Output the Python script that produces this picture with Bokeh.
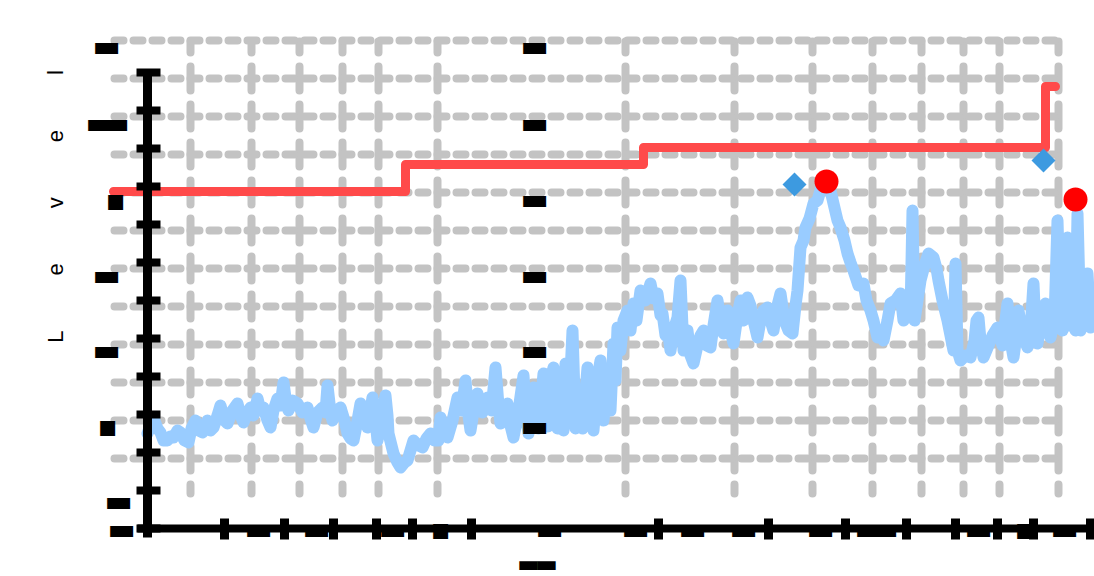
from math import pi
from bokeh.plotting import figure
from bokeh.models import (ColumnDataSource, Range1d, LinearAxis, FixedTicker, Grid,
                          LabelSet, Label)
from bokeh.embed import file_html
from bokeh.resources import INLINE
from bokeh.core.properties import value

# ---- data ----
t = [0, 3, 6, 10, 13, 16, 20, 23, 26, 30, 33, 37, 41, 44, 48, 51, 55, 58, 60, 63, 66, 70, 73,
     77, 80, 85, 90, 93, 96, 100, 103, 106, 110, 113, 116, 120, 123, 126, 130, 133, 136, 139,
     141, 145, 150, 155, 160, 163, 166, 170, 175, 178, 180, 183, 185, 189, 193, 197, 200, 203,
     206, 210, 213, 217, 220, 223, 225, 228, 230, 234, 238, 240, 241, 244, 246, 250, 253, 257,
     260, 263, 266, 271, 275, 279, 283, 287, 291, 293, 297, 300, 305, 310, 314, 318, 321, 323,
     327, 330, 335, 340, 344, 348, 351, 353, 357, 360, 363, 366, 371, 376, 379, 381, 383, 386,
     391, 396, 400, 403, 406, 410, 413, 416, 418, 421, 425, 428, 430, 435, 440, 443, 446, 450,
     453, 456, 460, 463, 466, 468, 470, 473, 476, 480, 483, 486, 489, 493, 498, 503, 506, 510,
     513, 515, 518, 520, 523, 526, 530, 533, 536, 540, 543, 546, 550, 553, 556, 559, 563, 566,
     570, 573, 576, 580, 583, 586, 590, 593, 596, 600, 603, 606, 610, 613, 616, 620, 623, 626,
     630, 633, 637, 641, 645, 648, 650, 653, 656, 658, 662, 666, 670, 675, 680, 683, 686, 690,
     693, 697, 700, 703, 706, 711, 716, 719, 723, 726, 730, 733, 736, 740, 743, 748, 753, 756,
     760, 763, 765, 767, 770, 773, 777, 781, 786, 789, 791, 795, 800, 803, 806, 808, 810, 813,
     818, 823, 827, 829, 831, 833, 836, 841, 845, 850, 855, 860, 863, 866, 869, 871, 875, 880,
     883, 886, 888, 890, 894, 898, 901, 903, 907, 910, 913, 915, 918, 920, 923, 925, 928, 930,
     933, 937, 940, 943, 947]
level = [95, 103, 110, 100, 96, 88, 88, 92, 91, 98, 96, 88, 86, 100, 108, 98, 96, 103, 108, 98,
         101, 113, 123, 108, 105, 118, 125, 113, 106, 116, 121, 113, 130, 118, 121, 108, 101,
         118, 130, 123, 146, 123, 118, 128, 125, 116, 121, 110, 101, 116, 121, 116, 143, 116,
         108, 118, 121, 108, 95, 90, 88, 108, 125, 110, 101, 118, 131, 108, 88, 110, 133, 113,
         95, 83, 75, 66, 61, 66, 68, 78, 88, 83, 81, 90, 95, 88, 88, 111, 98, 91, 108, 131, 118,
         148, 113, 98, 123, 135, 116, 131, 118, 161, 123, 105, 118, 125, 103, 91, 118, 153, 108,
         95, 118, 141, 100, 155, 102, 148, 161, 100, 140, 98, 165, 110, 198, 100, 140, 100, 161,
         118, 98, 150, 168, 108, 150, 118, 185, 148, 201, 178, 208, 218, 198, 225, 208, 238, 228,
         245, 230, 235, 213, 215, 193, 201, 178, 198, 211, 248, 178, 198, 173, 165, 183, 193, 198,
         183, 181, 203, 228, 208, 195, 218, 198, 185, 213, 228, 208, 231, 223, 208, 191, 208, 218,
         221, 208, 198, 223, 235, 208, 198, 195, 223, 238, 281, 288, 301, 310, 325, 328, 345, 345,
         338, 325, 308, 301, 288, 275, 266, 258, 243, 245, 228, 218, 208, 191, 196, 188, 208, 225,
         228, 235, 208, 228, 213, 318, 208, 228, 248, 263, 275, 271, 260, 248, 228, 208, 193, 178,
         265, 178, 168, 173, 171, 188, 208, 211, 188, 171, 183, 193, 201, 183, 225, 188, 171, 193,
         218, 193, 181, 198, 245, 198, 185, 208, 225, 203, 191, 208, 308, 203, 198, 208, 291, 203,
         208, 198, 315, 198, 213, 255, 201, 218]

limit_t = [-34, 258, 496, 898, 908]
limit_level = [337, 364, 381, 442, 442]

flag_t = [647, 896]
flag_level = [344, 368]

peak_t = [679, 928]
peak_level = [347, 329]

y_ticks = [38 * k for k in range(13)]
x_ticks = [77, 137, 186, 229, 265, 324, 511, 621, 698, 759, 808, 850, 886, 943]
x_grid = [43, 104, 152, 195, 231, 290, 478, 587, 665, 725, 774, 816, 852, 911]
y_grid = [38 * k + 32 for k in range(1, 13)]

# ---- figure ----
p = figure(width=1094, height=576, output_backend="svg", toolbar_location=None,
           x_range=Range1d(-147, 947), y_range=Range1d(-48, 528),
           x_axis_type=None, y_axis_type=None,
           min_border_left=0, min_border_right=0, min_border_top=0, min_border_bottom=0)
p.outline_line_color = None
p.background_fill_color = "white"
p.border_fill_color = "white"

grid_common = dict(grid_line_color="#c3c3c3", grid_line_width=8, grid_line_cap="round")
xg = Grid(dimension=0, ticker=FixedTicker(ticks=x_grid), cross_bounds=(35, 487),
          grid_line_dash="24 14", grid_line_dash_offset=15, **grid_common)
yg = Grid(dimension=1, ticker=FixedTicker(ticks=y_grid), cross_bounds=(-33, 912),
          grid_line_dash="9 10", **grid_common)
p.add_layout(xg)
p.add_layout(yg)

p.step(limit_t, limit_level, mode="after", line_color="#ff4a4a", line_width=9,
       line_join="round", line_cap="round")
p.line(t, level, line_color="#99ccff", line_width=12, line_join="round", line_cap="round")
p.scatter(flag_t, flag_level, marker="square", angle=pi / 4, size=17,
          fill_color="#3d9ae0", line_color=None)
p.scatter(peak_t, peak_level, marker="circle", size=24, fill_color="#ff0000", line_color=None)

axis_style = dict(axis_line_color="black", major_tick_line_color="black",
                  minor_tick_line_color=None)
yax = LinearAxis(ticker=FixedTicker(ticks=y_ticks), fixed_location=0, bounds=(-9, 458),
                 axis_line_width=9, major_tick_line_width=8, major_tick_in=13, major_tick_out=11,
                 major_label_overrides={v: "" for v in y_ticks}, **axis_style)
xax = LinearAxis(ticker=FixedTicker(ticks=x_ticks), fixed_location=0, bounds=(-10, 943),
                 axis_line_width=8, major_tick_line_width=9, major_tick_in=10, major_tick_out=11,
                 major_label_overrides={v: "" for v in x_ticks}, **axis_style)
p.add_layout(yax, "left")
p.add_layout(xax, "below")

# label blocks (drawn as solid bars, as in the picture)
bar = "\u25ac"
sq = "\u25aa"
lab_src = ColumnDataSource(dict(
    x=[-41, -48, -32, -32, -41, -41, -40, -29, -26, 387, 387, 387, 387, 387, 387,
       111, 169, 245, 293, 402, 488, 545, 596, 673, 721, 737, 831, 877, 917],
    y=[483, 406, 406, 329, 254, 179, 103, 28, 0, 483, 406, 330, 254, 179, 103,
       0, 0, 0, 0, 0, 0, 0, 0, 0, 0, 0, 0, 0, 0],
    text=[bar, bar, bar, sq, bar, bar, sq, bar, bar, bar, bar, bar, bar, bar, bar,
          bar, bar, bar, sq, bar, bar, bar, bar, bar, bar, bar, bar, sq, bar],
))
p.add_layout(LabelSet(x="x", y="y", text="text", source=lab_src, text_align="center",
                      text_baseline="middle", text_font=value("DejaVu Sans"),
                      text_font_size="30px", text_color="black"))

title_src = ColumnDataSource(dict(x=[381, 399], y=[-35, -35], text=[bar, bar]))
p.add_layout(LabelSet(x="x", y="y", text="text", source=title_src, text_align="center",
                      text_baseline="middle", text_font=value("DejaVu Sans"),
                      text_font_size="24px", text_color="black"))

sp = "\u00a0" * 9
p.add_layout(Label(x=-92, y=322, text=sp.join("Level"), angle=pi / 2, text_align="center",
                   text_baseline="middle", text_font="Liberation Sans",
                   text_font_size="22px", text_color="black"))

open("out.html", "w").write(file_html(p, INLINE))
